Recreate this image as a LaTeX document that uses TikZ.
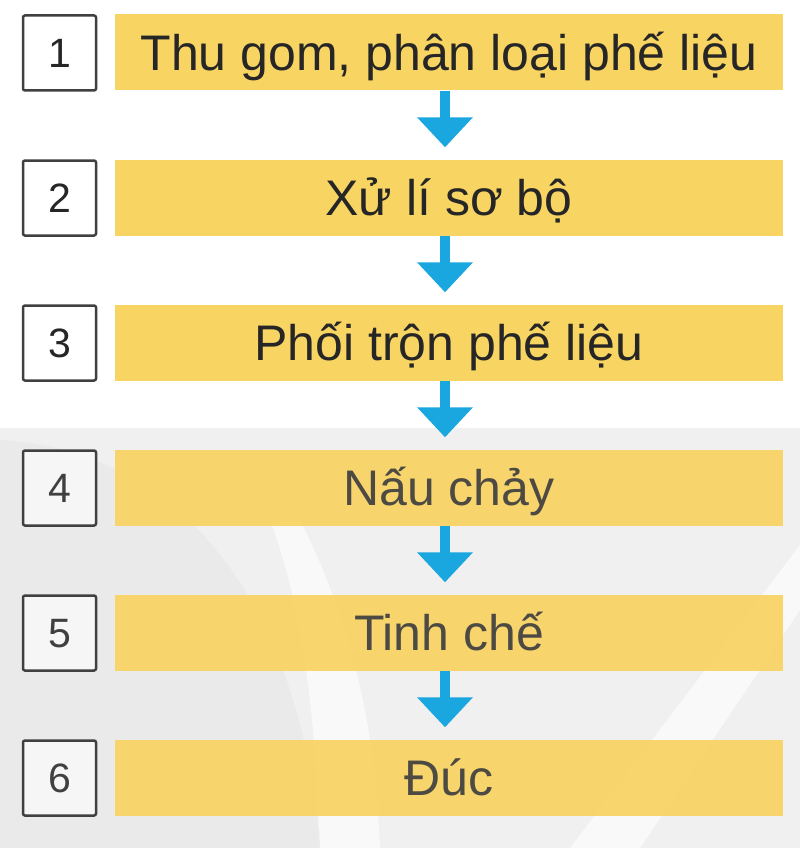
\documentclass[tikz,border=0pt]{standalone}
\usepackage{fontspec}
\setmainfont{Liberation Sans}
\usetikzlibrary{arrows.meta}
\definecolor{stepyellow}{HTML}{F8D463}
\definecolor{arrowblue}{HTML}{1AA6DE}
\definecolor{wmgray}{HTML}{F0F0F0}
\definecolor{wmdark}{HTML}{EAEAEA}
\tikzset{
  bar/.style = {fill=stepyellow, minimum width=668pt, minimum height=76pt, inner sep=0pt,
    text height=36pt, text depth=0pt, text=black!85, font=\fontsize{50}{60}\selectfont},
  numbox/.style = {draw=black!75, line width=2.5pt, fill=white, rounded corners=2pt,
    minimum width=73pt, minimum height=75pt, inner sep=0pt,
    text height=29pt, text depth=0pt, text=black!85, font=\fontsize{41}{50}\selectfont},
  faded/.style = {fill opacity=0.93, text=black!75},
  flow/.style = {arrowblue, line width=10pt, shorten >=12pt,
    -{Triangle[width=54pt, length=30pt]}}
}

\begin{document}
\begin{tikzpicture}[x=1pt, y=-1pt]
\useasboundingbox (0,0) rectangle (800,848);
% watermark in the background
\fill[white] (0,0) rectangle (800,848);
\fill[wmgray] (0,428) rectangle (800,848);
\fill[wmdark] (0,440) .. controls (180,450) and (300,600) .. (320,848) -- (0,848) -- cycle;
\fill[white, opacity=0.6] (320,848) .. controls (315,700) and (300,600) .. (270,520)
  -- (300,520) .. controls (350,620) and (375,720) .. (380,848) -- cycle;
\fill[white, opacity=0.6] (800,545) -- (800,610) -- (640,848) -- (570,848) -- cycle;
% steps
\node[bar] (s1) at (449,52.5) {Thu gom, phân loại phế liệu};
\node[bar] (s2) at (449,197.5) {Xử lí sơ bộ};
\node[bar] (s3) at (449,342.5) {Phối trộn phế liệu};
\node[bar, faded] (s4) at (449,487.5) {Nấu chảy};
\node[bar, faded] (s5) at (449,632.5) {Tinh chế};
\node[bar, faded] (s6) at (449,777.5) {Đúc};
% numbers
\node[numbox] (n1) at (59.5,53) {1};
\node[numbox] (n2) at (59.5,198) {2};
\node[numbox] (n3) at (59.5,343) {3};
\node[numbox, fill=wmgray!60, text=black!75] (n4) at (59.5,488) {4};
\node[numbox, fill=wmgray!60, text=black!75] (n5) at (59.5,633) {5};
\node[numbox, fill=wmgray!60, text=black!75] (n6) at (59.5,778) {6};
% arrows
\draw[flow] ([xshift=-4pt]s1.south) -- ([xshift=-4pt]s2.north);
\draw[flow] ([xshift=-4pt]s2.south) -- ([xshift=-4pt]s3.north);
\draw[flow] ([xshift=-4pt]s3.south) -- ([xshift=-4pt]s4.north);
\draw[flow] ([xshift=-4pt]s4.south) -- ([xshift=-4pt]s5.north);
\draw[flow] ([xshift=-4pt]s5.south) -- ([xshift=-4pt]s6.north);
\end{tikzpicture}
\end{document}
